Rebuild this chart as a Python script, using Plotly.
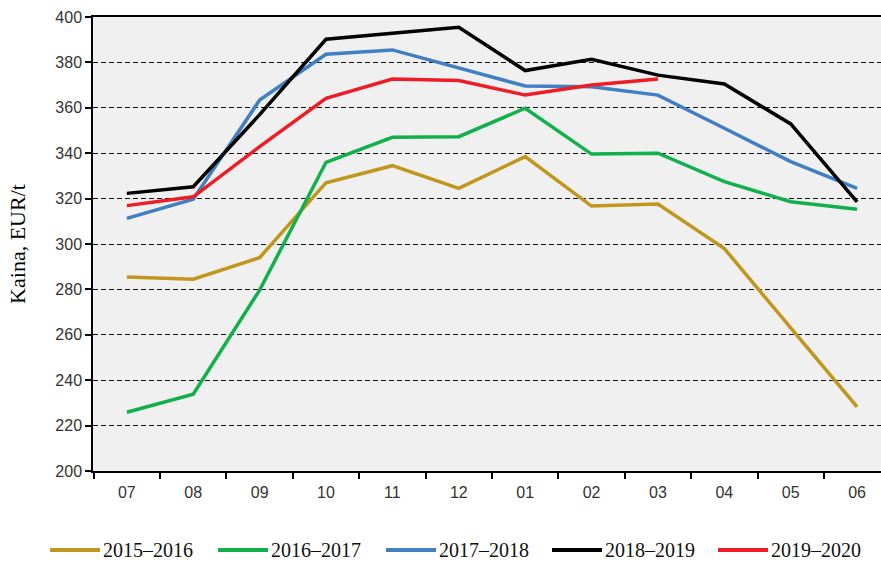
import plotly.graph_objects as go

months = ["07", "08", "09", "10", "11", "12", "01", "02", "03", "04", "05", "06"]
s2015_2016 = [285.5, 284.5, 294, 327, 334.5, 324.5, 338.5, 316.7, 317.6, 298, 263, 228.3]
s2016_2017 = [225.9, 233.8, 279.7, 336, 347, 347.3, 359.8, 339.6, 340, 327.5, 318.6, 315.3]
s2017_2018 = [311.3, 319.7, 363.4, 383.6, 385.5, 377.4, 369.6, 369.3, 365.6, 351, 336.3, 324.5]
s2018_2019 = [322.3, 325.2, 357, 390.2, 392.8, 395.5, 376.4, 381.4, 374.4, 370.5, 352.9, 318.6]
s2019_2020 = [316.9, 320.8, 342.9, 364.2, 372.7, 372, 365.6, 370, 372.7, None, None, None]

series_names = ["2015–2016", "2016–2017", "2017–2018", "2018–2019", "2019–2020"]
series_values = [s2015_2016, s2016_2017, s2017_2018, s2018_2019, s2019_2020]
series_colors = ["#c0961c", "#12b04c", "#3f7fc2", "#000000", "#ee1c25"]

W, H = 881, 563
L, R, T, B = 93, 0, 17, 92
pw, ph = W - L - R, H - T - B

fig = go.Figure()
for name, vals, col in zip(series_names, series_values, series_colors):
    fig.add_trace(go.Scatter(x=months, y=vals, name=name, mode="lines",
                             line=dict(color=col, width=3.5), showlegend=False))

# custom legend (long line symbols, as in the reference)
leg_starts_px = [50, 218, 386, 552, 718]
leg_y_px = 550
ly = (H - B - leg_y_px) / ph
for start, name, col in zip(leg_starts_px, series_names, series_colors):
    x0 = (start - L) / pw
    x1 = (start + 50 - L) / pw
    fig.add_shape(type="line", xref="paper", yref="paper", x0=x0, x1=x1, y0=ly, y1=ly,
                  line=dict(color=col, width=4))
    fig.add_annotation(xref="paper", yref="paper", x=(start + 51 - L) / pw, y=ly,
                       text=name, showarrow=False, xanchor="left", yanchor="middle",
                       font=dict(family="Liberation Serif", size=20, color="#111"))

fig.update_layout(
    width=W, height=H,
    margin=dict(l=L, r=R, t=T, b=B, autoexpand=False),
    paper_bgcolor="white", plot_bgcolor="#f0f0f0",
    showlegend=False,
    font=dict(family="Liberation Sans", size=16, color="#222"),
)
fig.update_xaxes(type="category", range=[-0.51, 11.36], showline=True, linecolor="#000",
                 linewidth=1.5, mirror=True, ticks="outside", tickson="boundaries",
                 ticklen=6, tickcolor="#000", tickwidth=1.5, showgrid=False, automargin=False,
                 ticklabelstandoff=6,
                 tickfont=dict(family="Liberation Sans", size=16, color="#333"))
fig.update_yaxes(range=[200, 400], dtick=20, showline=True, linecolor="#000", linewidth=1.5,
                 ticks="outside", ticklen=6, tickcolor="#000", tickwidth=1.5,
                 showgrid=True, gridcolor="#111", griddash="5px,3px", gridwidth=1,
                 zeroline=False, automargin=False,
                 title=dict(text="Kaina, EUR/t", font=dict(family="Liberation Serif", size=22, color="#000"), standoff=24),
                 tickfont=dict(family="Liberation Sans", size=16, color="#333"))

fig.write_html("out.html", config={"displayModeBar": False},
               post_script="document.body.style.margin='0';document.body.style.overflow='hidden';")
